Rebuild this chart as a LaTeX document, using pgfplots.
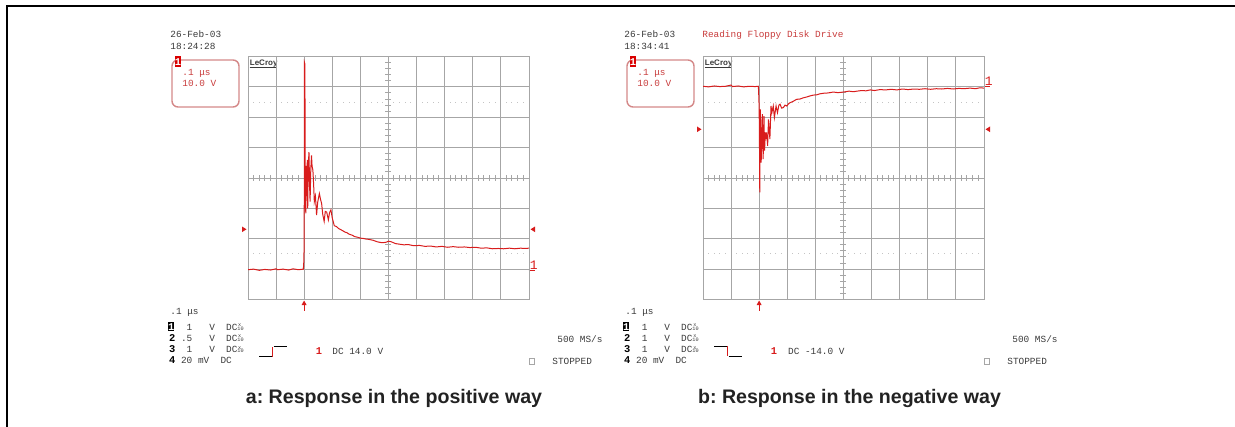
\documentclass[border=0pt]{standalone}
\usepackage{pgfplots}
\pgfplotsset{compat=1.18}
\usepackage{fontspec}
\setmainfont{Liberation Sans}
\newfontfamily\oscfont{Liberation Mono}
\frenchspacing

\definecolor{trace}{HTML}{D81C1C}
\definecolor{gridc}{HTML}{A6A6A6}
\definecolor{dotc}{HTML}{C4C4C4}
\definecolor{osctext}{HTML}{3A3A3A}
\definecolor{oscred}{HTML}{C83C3C}
\definecolor{boxc}{HTML}{D48888}
\definecolor{capc}{HTML}{222222}

\newcommand{\ot}{\oscfont\fontsize{4.7}{5}\selectfont}
\newcommand{\otb}{\oscfont\bfseries\fontsize{5.2}{5.5}\selectfont}
\newcommand{\ott}{\oscfont\fontsize{2.6}{3}\selectfont}

\pgfplotsset{oscaxis/.style={
    scale only axis, width=140.5pt, height=121.5pt, anchor=south west,
    xmin=0, xmax=10, ymin=-4, ymax=4,
    xtick={0,...,10}, ytick={-4,...,4},
    xticklabels={}, yticklabels={}, major tick length=0pt,
    grid=major, major grid style={draw=gridc, line width=0.5pt},
    axis line style={draw=gridc, line width=0.5pt}}}

% parts common to both screens, in pixel units of screen a
\newcommand{\oscpanel}[1]{%
  \foreach \k in {1,...,49}{%
    \pgfmathtruncatemacro\r{mod(\k,5)}%
    \ifnum\r>0
      \draw[gridc, line width=0.5pt] ({248+\k*5.614},175.3) -- ++(0,5.4);
      \fill[dotc] ({248+\k*5.614-0.5},101.6) rectangle ++(1,1);
      \fill[dotc] ({248+\k*5.614-0.5},253.4) rectangle ++(1,1);
    \fi}
  \foreach \k in {1,...,39}{%
    \pgfmathtruncatemacro\r{mod(\k,5)}%
    \ifnum\r>0
      \draw[gridc, line width=0.5pt] (385.3,{56.5+\k*6.075}) -- ++(6.1,0);
    \fi}
  % logo
  \node[anchor=base west, inner sep=0, text=osctext, font=\bfseries\fontsize{4}{4}\selectfont] at (249.5,65.5) {LeCroy};
  \draw[osctext, line width=0.4pt] (249.5,67.6) -- (276,67.6);
  % channel box
  \draw[boxc, line width=0.7pt, rounded corners=3] (172,60) rectangle (239,107);
  \fill[red!85!black] (175,56) rectangle (181,67);
  \node[anchor=base, inner sep=0, text=white, font=\otb] at (178,65.5) {1};
  \node[anchor=base west, inner sep=0, text=oscred, font=\ot] at (182,76) {.1 μs};
  \node[anchor=base west, inner sep=0, text=oscred, font=\ot] at (182,86.5) {10.0 V};
  % trigger arrow
  \draw[trace, line width=0.6pt] (304.1,304) -- (304.1,311);
  \fill[trace] (301.6,305) -- (304.1,300.5) -- (306.6,305) -- cycle;
  % bottom read-out
  \node[anchor=base west, inner sep=0, text=osctext, font=\ot] at (170,314.5) {.1 μs};
  \fill[black] (168.3,322.3) rectangle (174.3,330.8);
  \node[anchor=base, inner sep=0, text=white, font=\otb] at (171.3,330) {1};
  \node[anchor=base west, inner sep=0, font=\otb] at (168.6,341.3) {2};
  \node[anchor=base west, inner sep=0, font=\otb] at (168.6,352.6) {3};
  \node[anchor=base west, inner sep=0, font=\otb] at (168.6,363.9) {4};
  \node[anchor=base west, inner sep=0, text=osctext, font=\ot] at (180.7,330) {\phantom{0}1\phantom{0}\phantom{0}\phantom{0}V\phantom{0}\phantom{0}DC};
  \node[anchor=base west, inner sep=0, text=osctext, font=\ot] at (180.7,341.3) {#1\phantom{0}\phantom{0}\phantom{0}V\phantom{0}\phantom{0}DC};
  \node[anchor=base west, inner sep=0, text=osctext, font=\ot] at (180.7,352.6) {\phantom{0}1\phantom{0}\phantom{0}\phantom{0}V\phantom{0}\phantom{0}DC};
  \node[anchor=base west, inner sep=0, text=osctext, font=\ot] at (180.7,363.9) {20\phantom{0}mV\phantom{0}\phantom{0}DC};
  \foreach \yy in {330,341.3,352.6}{%
    \node[anchor=base, inner sep=0, text=osctext, font=\ott] at (239.8,\yy-3.6) {x};
    \node[anchor=base west, inner sep=0, text=osctext, font=\ott] at (237,\yy) {10};}
  \node[anchor=base west, inner sep=0, text=osctext, font=\ot] at (557,342) {500 MS/s};
  \draw[gridc, line width=0.4pt] (529,358) rectangle (534,364);
  \node[anchor=base west, inner sep=0, text=osctext, font=\ot] at (552,364.8) {STOPPED};
}

\begin{document}
\begin{tikzpicture}
\begin{scope}[x=0.5pt, y=-0.5pt]
  \useasboundingbox (0,0) rectangle (1235,427);
  % frame
  \draw[black, line width=1pt, miter limit=10] (6.7,428) -- (6.7,5.8) -- (1236,5.8);

  % screen a
  \oscpanel{.5}
  \node[anchor=base west, inner sep=0, text=osctext, font=\ot] at (170,38) {26-Feb-03};
  \node[anchor=base west, inner sep=0, text=osctext, font=\ot] at (170,50) {18:24:28};
  \fill[trace] (242,226.5) -- (246.5,229.3) -- (242,232.1) -- cycle;
  \fill[trace] (535,226.5) -- (530.5,229.3) -- (535,232.1) -- cycle;
  \node[anchor=base west, inner sep=0, text=trace, font=\oscfont\fontsize{6.5}{7}\selectfont] at (529.5,269.5) {1};
  \draw[trace, line width=0.5pt] (528.7,270.8) -- (535,270.8);
  \draw[black, line width=0.5pt] (259,356) -- (271.5,356);
  \draw[trace, line width=0.6pt] (271.5,356) -- (272.7,356) -- (272.7,346.7);
  \draw[black, line width=0.5pt] (273.5,346.7) -- (287,346.7);
  \node[anchor=base west, inner sep=0, text=trace, font=\otb] at (315.5,354.5) {1};
  \node[anchor=base west, inner sep=0, text=osctext, font=\ot] at (332,354.5) {DC 14.0 V};
  \node[anchor=base, inner sep=0, text=capc, font=\bfseries\fontsize{9.8}{11}\selectfont] at (394,403) {a: Response in the positive way};

  % screen b
  \begin{scope}[xshift=227.5pt]
    \oscpanel{\phantom{0}1}
  \end{scope}
  \node[anchor=base west, inner sep=0, text=osctext, font=\ot] at (624,38) {26-Feb-03};
  \node[anchor=base west, inner sep=0, text=osctext, font=\ot] at (624,50) {18:34:41};
  \node[anchor=base west, inner sep=0, text=oscred, font=\ot] at (702,38) {Reading Floppy Disk Drive};
  \fill[trace] (697,126.5) -- (701.5,129.3) -- (697,132.1) -- cycle;
  \fill[trace] (990,126.5) -- (985.5,129.3) -- (990,132.1) -- cycle;
  \node[anchor=base west, inner sep=0, text=trace, font=\oscfont\fontsize{6.5}{7}\selectfont] at (984.5,85.5) {1};
  \draw[trace, line width=0.5pt] (983.7,86.8) -- (990,86.8);
  \draw[black, line width=0.5pt] (714,346.7) -- (727,346.7);
  \draw[trace, line width=0.6pt] (727,346.7) -- (727.7,346.7) -- (727.7,356);
  \draw[black, line width=0.5pt] (728.5,356) -- (742,356);
  \node[anchor=base west, inner sep=0, text=trace, font=\otb] at (770.5,354.5) {1};
  \node[anchor=base west, inner sep=0, text=osctext, font=\ot] at (787.7,354.5) {DC -14.0 V};
  \node[anchor=base, inner sep=0, text=capc, font=\bfseries\fontsize{9.8}{11}\selectfont] at (849.5,403) {b: Response in the negative way};
\end{scope}

\begin{axis}[oscaxis, at={(124pt,-149.75pt)}]
  \addplot[trace, line width=0.5pt] coordinates {
    (0,-3.02) (0.2,-3.0) (0.4,-3.04) (0.6,-3.01) (0.8,-3.03) (1.0,-2.99) (1.05,-3.02)
    (1.25,-3.0) (1.45,-3.03) (1.6,-2.99) (1.8,-3.02) (1.97,-3.0) (1.99,-2.7) (2.0,-1.8)
    (2.01,3.8) (2.025,3.75) (2.035,0.3) (2.045,-1.0) (2.06,-1.16) (2.075,0.4) (2.09,-0.6)
    (2.11,0.6) (2.125,-1.0) (2.145,0.4) (2.17,0.85) (2.19,-0.2) (2.21,-0.78) (2.235,0.3)
    (2.26,0.74) (2.28,0.4) (2.31,0.25) (2.335,-0.2) (2.36,-0.78) (2.40,-0.6) (2.44,-1.22)
    (2.48,-0.8) (2.54,-0.51) (2.58,-0.7) (2.62,-0.84) (2.66,-1.2) (2.71,-1.43) (2.75,-1.1)
    (2.80,-1.12) (2.86,-1.38) (2.90,-1.15) (2.95,-1.05) (3.0,-1.32) (3.07,-1.57) (3.15,-1.6)
    (3.22,-1.66) (3.3,-1.7) (3.38,-1.74) (3.45,-1.78) (3.52,-1.8) (3.6,-1.85) (3.7,-1.88)
    (3.8,-1.93) (3.9,-1.95) (4.0,-1.98) (4.1,-1.99) (4.2,-2.01) (4.3,-2.02) (4.45,-2.05)
    (4.6,-2.1) (4.76,-2.13) (4.9,-2.12) (5.0,-2.08) (5.1,-2.1) (5.25,-2.16) (5.4,-2.18)
    (5.55,-2.2) (5.7,-2.19) (5.9,-2.23) (6.1,-2.22) (6.3,-2.25) (6.5,-2.24) (6.7,-2.27)
    (6.9,-2.25) (7.1,-2.28) (7.3,-2.26) (7.5,-2.28) (7.7,-2.27) (7.9,-2.29) (8.1,-2.28)
    (8.3,-2.31) (8.5,-2.3) (8.7,-2.33) (8.9,-2.32) (9.1,-2.33) (9.3,-2.31) (9.5,-2.33)
    (9.7,-2.31) (9.85,-2.32) (10,-2.31)};
\end{axis}

\begin{axis}[oscaxis, at={(351.5pt,-149.75pt)}]
  \addplot[trace, line width=0.5pt] coordinates {
    (0,3.02) (0.2,3.0) (0.4,3.03) (0.6,3.01) (0.8,3.02) (1.0,3.06) (1.05,3.01) (1.25,3.03)
    (1.45,3.0) (1.65,3.02) (1.85,3.01) (1.97,3.02) (1.99,2.6) (2.0,2.1) (2.01,1.0)
    (2.02,-0.47) (2.03,0.8) (2.04,2.26) (2.07,0.51) (2.11,2.1) (2.14,0.62) (2.17,2.04)
    (2.19,0.9) (2.22,1.5) (2.24,1.28) (2.26,1.5) (2.30,1.06) (2.33,1.93) (2.38,1.28)
    (2.42,2.37) (2.45,2.15) (2.50,2.37) (2.54,1.99) (2.60,2.37) (2.65,2.15) (2.70,2.4)
    (2.74,2.43) (2.80,2.3) (2.86,2.32) (2.92,2.4) (2.98,2.37) (3.05,2.45) (3.1,2.48)
    (3.2,2.52) (3.33,2.59) (3.45,2.6) (3.57,2.64) (3.7,2.67) (3.8,2.7) (3.93,2.73)
    (4.05,2.74) (4.15,2.77) (4.29,2.79) (4.45,2.8) (4.64,2.83) (4.8,2.81) (5.0,2.83)
    (5.2,2.86) (5.35,2.84) (5.48,2.86) (5.65,2.88) (5.8,2.87) (5.95,2.9) (6.1,2.88)
    (6.3,2.91) (6.5,2.9) (6.7,2.92) (6.9,2.9) (7.1,2.93) (7.3,2.91) (7.5,2.93) (7.7,2.92)
    (7.9,2.94) (8.1,2.92) (8.3,2.94) (8.5,2.93) (8.7,2.95) (8.9,2.93) (9.1,2.95) (9.3,2.94)
    (9.5,2.96) (9.7,2.94) (9.85,2.97) (10,2.96)};
\end{axis}
\end{tikzpicture}
\end{document}
